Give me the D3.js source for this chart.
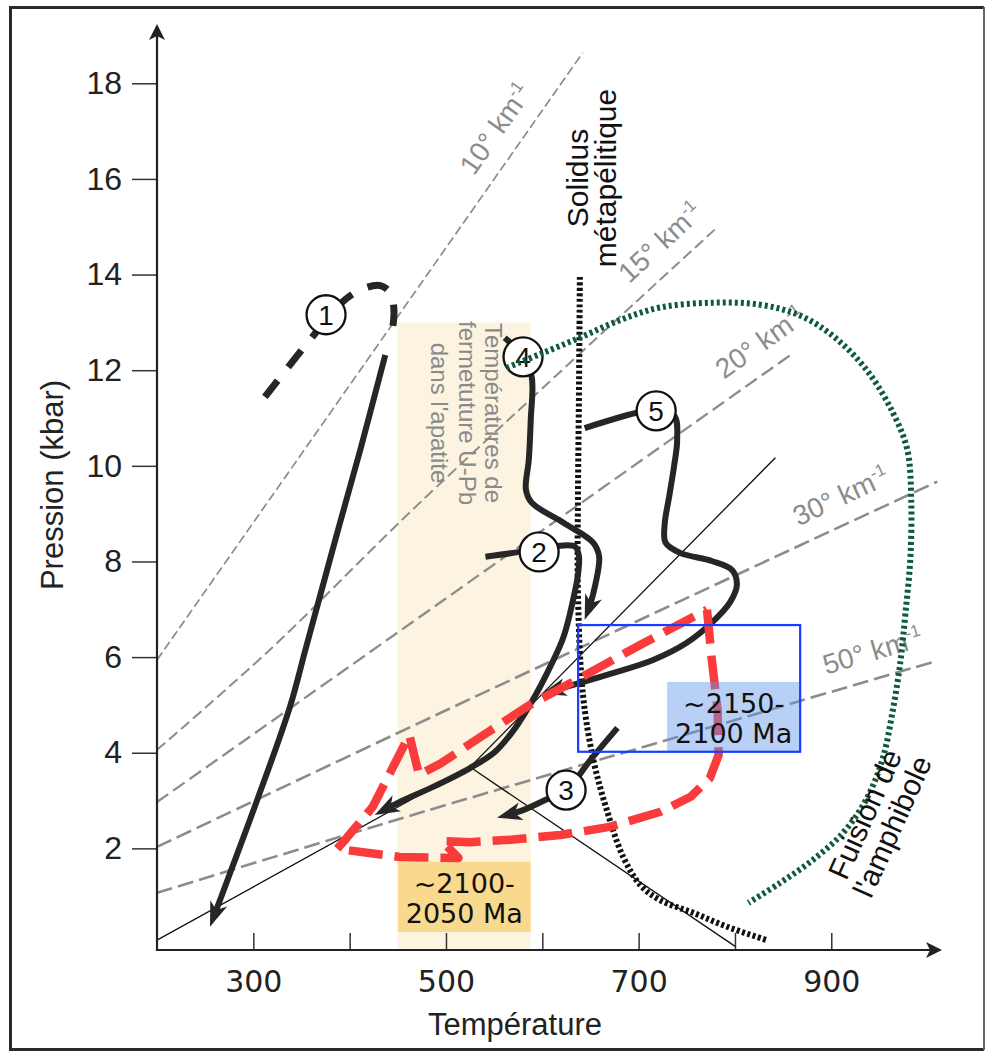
<!DOCTYPE html>
<html>
<head>
<meta charset="utf-8">
<script src="https://cdn.jsdelivr.net/npm/d3@7/dist/d3.min.js"></script>
<style>html,body{margin:0;padding:0;background:#fff}svg{display:block}</style>
</head>
<body>
<svg id="chart" width="992" height="1057"></svg>
<script>
// ---------------- data (Temperature °C, Pressure kbar) ----------------
const xTickValues = [300, 400, 500, 600, 700, 800, 900];
const xTickLabels = [300, 500, 700, 900];
const yTickValues = [2, 4, 6, 8, 10, 12, 14, 16, 18];

const geothermNames = ["10° km", "15° km", "20° km", "30° km", "50° km"];
const geotherm10 = [[200, 5.94], [642, 18.64]];
const geotherm15 = [[200, 4.06], [317, 6.15], [473, 9.23], [779, 14.94]];
const geotherm20 = [[200, 2.97], [439, 6.36], [862, 12.38]];
const geotherm30 = [[200, 2.03], [494, 4.83], [1010, 9.67]];
const geotherm50 = [[200, 1.07], [380, 2.18], [494, 2.87], [1006, 5.90]];
const geothermLabelT = [575, 742, 843, 922, 951];

const path1Dashed = [[312, 11.44], [359, 12.64], [395, 13.47], [416, 13.72], [432, 13.77], [442, 13.62], [446, 13.26], [444, 12.78]];
const path1 = [[437, 12.32], [411, 10.33], [390, 8.81], [369, 7.26], [354, 6.15], [338, 4.96], [304, 3.01], [276, 1.49], [255, 0.36]];
const path2 = [[541, 8.10], [577, 8.20], [618, 8.33], [634, 8.31], [638, 8.12], [637, 7.72], [632, 7.20], [622, 6.42], [608, 5.79], [592, 5.17], [572, 4.52], [551, 4.02], [525, 3.68], [486, 3.28], [452, 2.97], [426, 2.70]];
const path3 = [[678, 4.52], [650, 3.85], [625, 3.22], [603, 3.01], [580, 2.80], [553, 2.64]];
const path4 = [[561, 12.68], [580, 12.28], [589, 11.86], [588, 10.96], [586, 10.13], [583, 9.50], [589, 9.23], [622, 8.81], [653, 8.39], [659, 8.10], [655, 7.51], [649, 7.05], [644, 6.78]];
const path5 = [[644, 10.79], [698, 11.11], [717, 11.17], [737, 11.05], [740, 10.54], [737, 10.02], [732, 9.39], [727, 8.77], [728, 8.39], [743, 8.18], [776, 8.01], [797, 7.82], [802, 7.51], [795, 7.15], [776, 6.72], [750, 6.30], [715, 5.94], [674, 5.67], [639, 5.46], [599, 5.23]];
const redPath = [[771, 6.99], [776, 5.94], [782, 4.90], [783, 3.95], [774, 3.47], [754, 3.08], [722, 2.76], [670, 2.45], [619, 2.28], [567, 2.18], [525, 2.13], [496, 2.15], [513, 1.80], [452, 1.82], [387, 1.99], [397, 2.22], [424, 2.87], [445, 3.70], [462, 4.37], [467, 3.95], [472, 3.54], [494, 3.77], [539, 4.37], [587, 5.00], [639, 5.56], [702, 6.26], [771, 6.99]];
const solidus = [[639, 13.95], [638, 11.38], [637, 9.29], [637, 7.34], [642, 5.25], [653, 3.85], [667, 2.80], [684, 1.82], [702, 1.23], [722, 0.92], [757, 0.65], [792, 0.36], [833, 0.08]];
const amphibole = [[563, 12.05], [598, 12.34], [639, 12.68], [681, 13.05], [722, 13.31], [774, 13.41], [826, 13.37], [868, 13.14], [904, 12.68], [938, 11.97], [964, 11.11], [979, 10.33], [983, 9.29], [982, 8.03], [977, 6.92], [972, 5.94], [964, 4.90], [953, 3.85], [936, 3.01], [912, 2.32], [881, 1.76], [847, 1.28], [814, 0.86]];
const thinLineA = [[200, 0.08], [525, 3.70], [842, 10.17]];
const thinLineB = [[525, 3.70], [801, -0.06]];

const circleLabels = ["1", "2", "3", "4", "5"];
const circleT = [375.5, 596.7, 624.7, 580, 718.2];
const circleP = [13.16, 8.20, 3.22, 12.28, 11.15];

const apatiteBandT = [450, 588];
const apatiteBandP = [-0.12, 13.0];
const ageBoxOrangeP = [0.25, 1.72];
const ageBoxBlueT = [637.2, 867.7];
const ageBoxBlueP = [4.02, 6.67];
const ageLabelBlueT = [729.6, 867.7];
const ageLabelBlueP = [4.02, 5.48];

// ---------------- drawing ----------------
const svg = d3.select("#chart");
const W = 992, H = 1057;
const fontA = "'Liberation Sans', Arial, Helvetica, sans-serif";
const fontD = "'DejaVu Sans', Verdana, sans-serif";
const x = d3.scaleLinear().domain([200, 1000]).range([157, 927.6]);
const y = d3.scaleLinear().domain([0, 18]).range([944, 83.3]);
const axisY = 950;

svg.append("rect").attr("width", W).attr("height", H).attr("fill", "#fff");

const lin = d3.line().x(d => x(d[0])).y(d => y(d[1]));
const smooth = d3.line().x(d => x(d[0])).y(d => y(d[1])).curve(d3.curveCatmullRom.alpha(0.5));

// apatite closure band
svg.append("rect")
  .attr("x", x(apatiteBandT[0])).attr("width", x(apatiteBandT[1]) - x(apatiteBandT[0]))
  .attr("y", y(apatiteBandP[1])).attr("height", y(apatiteBandP[0]) - y(apatiteBandP[1]))
  .attr("fill", "#fcf4e0");
svg.append("rect")
  .attr("x", x(apatiteBandT[0])).attr("width", x(apatiteBandT[1]) - x(apatiteBandT[0]))
  .attr("y", y(ageBoxOrangeP[1])).attr("height", y(ageBoxOrangeP[0]) - y(ageBoxOrangeP[1]))
  .attr("fill", "#f8d98e");

// geotherms
const geotherms = [geotherm10, geotherm15, geotherm20, geotherm30, geotherm50];
const gWidth = [1.7, 2, 2.3, 2.6, 2.6];
const gDash = ["9,4", "11,5", "14,6", "16,6", "16,6"];
const gGeo = svg.append("g");
geotherms.forEach((g, i) => {
  gGeo.append("path").attr("d", smooth(g)).attr("fill", "none")
    .attr("stroke", "#8c8c8c").attr("stroke-width", gWidth[i]).attr("stroke-dasharray", gDash[i]);
  const T = geothermLabelT[i];
  let k = 0;
  while (k < g.length - 2 && g[k + 1][0] < T) k++;
  const a = g[k], b = g[k + 1];
  const P = a[1] + (b[1] - a[1]) * (T - a[0]) / (b[0] - a[0]);
  const ang = Math.atan2(y(b[1]) - y(a[1]), x(b[0]) - x(a[0])) * 180 / Math.PI;
  const t = gGeo.append("text")
    .attr("transform", `translate(${x(T)},${y(P)}) rotate(${ang})`)
    .attr("y", -18).attr("text-anchor", "middle")
    .attr("font-family", fontA).attr("font-size", 28).attr("fill", "#8c8c8c");
  t.append("tspan").text(geothermNames[i]);
  t.append("tspan").attr("font-size", 17).attr("dy", -11).text("-1");
});

// apatite text
const gAp = svg.append("g").attr("transform", "translate(467,413) rotate(90)")
  .attr("font-family", fontA).attr("font-size", 24).attr("fill", "#8a8a8a").attr("text-anchor", "middle");
gAp.append("text").attr("y", -18).text("Températures de");
gAp.append("text").attr("y", 8).text("fermetuture U-Pb");
gAp.append("text").attr("y", 36).text("dans l'apatite");

// thin lines
svg.append("path").attr("d", lin(thinLineA)).attr("fill", "none").attr("stroke", "#111").attr("stroke-width", 1.3);
svg.append("path").attr("d", lin(thinLineB)).attr("fill", "none").attr("stroke", "#111").attr("stroke-width", 1.3);

// solidus
svg.append("path").attr("d", smooth(solidus)).attr("fill", "none")
  .attr("stroke", "#111").attr("stroke-width", 6).attr("stroke-dasharray", "3,2.5");

// black P-T paths
const black = "#262626";
function arrowPath(data) {
  const p = svg.append("path").attr("d", smooth(data)).attr("fill", "none")
    .attr("stroke", black).attr("stroke-width", 6).attr("stroke-linejoin", "round");
  const node = p.node();
  const L = node.getTotalLength();
  p.attr("stroke-dasharray", `${L - 12} ${L + 50}`);
  const tip = node.getPointAtLength(L);
  const back = node.getPointAtLength(L - 12);
  const ang = Math.atan2(tip.y - back.y, tip.x - back.x) * 180 / Math.PI;
  svg.append("path").attr("d", "M0,0 L-25,-9 L-18,0 L-25,9 Z")
    .attr("transform", `translate(${tip.x},${tip.y}) rotate(${ang})`).attr("fill", black);
}
svg.append("path").attr("d", smooth(path1Dashed)).attr("fill", "none")
  .attr("stroke", black).attr("stroke-width", 7).attr("stroke-dasharray", "21,17");
[path1, path2, path3, path4, path5].forEach(arrowPath);

// red path
svg.append("path").attr("d", lin(redPath)).attr("fill", "none")
  .attr("stroke", "#f93b3b").attr("stroke-width", 8.5).attr("stroke-dasharray", "34,12")
  .attr("stroke-linejoin", "round");

// circles
circleLabels.forEach((lab, i) => {
  const cx = x(circleT[i]), cy = y(circleP[i]);
  svg.append("circle").attr("cx", cx).attr("cy", cy).attr("r", 19.5)
    .attr("fill", "#fff").attr("stroke", "#111").attr("stroke-width", 2.3);
  svg.append("text").attr("x", cx).attr("y", cy + 10).attr("text-anchor", "middle")
    .attr("font-family", fontA).attr("font-size", 28).attr("fill", "#111").text(lab);
});

// amphibole melting
svg.append("path").attr("d", smooth(amphibole)).attr("fill", "none")
  .attr("stroke", "#0e5a3c").attr("stroke-width", 6).attr("stroke-dasharray", "3,3");

// blue age box
svg.append("rect")
  .attr("x", x(ageLabelBlueT[0])).attr("width", x(ageLabelBlueT[1]) - x(ageLabelBlueT[0]))
  .attr("y", y(ageLabelBlueP[1])).attr("height", y(ageLabelBlueP[0]) - y(ageLabelBlueP[1]))
  .attr("fill", "rgb(100,150,235)").attr("fill-opacity", 0.45);
svg.append("rect")
  .attr("x", x(ageBoxBlueT[0])).attr("width", x(ageBoxBlueT[1]) - x(ageBoxBlueT[0]))
  .attr("y", y(ageBoxBlueP[1])).attr("height", y(ageBoxBlueP[0]) - y(ageBoxBlueP[1]))
  .attr("fill", "none").attr("stroke", "#1a3cff").attr("stroke-width", 2.2);
const blueCx = (x(ageLabelBlueT[0]) + x(ageLabelBlueT[1])) / 2;
const bt = svg.append("g").attr("font-family", fontD).attr("font-size", 27).attr("fill", "#111").attr("text-anchor", "middle");
bt.append("text").attr("x", blueCx).attr("y", 713).text("~2150-");
bt.append("text").attr("x", blueCx).attr("y", 743).text("2100 Ma");

const orCx = (x(apatiteBandT[0]) + x(apatiteBandT[1])) / 2;
const ot = svg.append("g").attr("font-family", fontD).attr("font-size", 27).attr("fill", "#111").attr("text-anchor", "middle");
ot.append("text").attr("x", orCx).attr("y", 893).text("~2100-");
ot.append("text").attr("x", orCx).attr("y", 923).text("2050 Ma");

// Solidus label
const gSol = svg.append("g").attr("transform", "translate(600,178) rotate(-90)")
  .attr("font-family", fontA).attr("font-size", 30).attr("fill", "#111").attr("text-anchor", "middle");
gSol.append("text").attr("y", -12).text("Solidus");
gSol.append("text").attr("y", 16).text("métapélitique");

// Amphibole label
const gAm = svg.append("g").attr("transform", "translate(878,820) rotate(-66)")
  .attr("font-family", fontA).attr("font-size", 30).attr("fill", "#111").attr("text-anchor", "middle");
gAm.append("text").attr("y", -4).text("Fuision de");
gAm.append("text").attr("y", 26).text("l'amphibole");

// axes
const ax = svg.append("g").attr("transform", `translate(0,${axisY})`)
  .call(d3.axisBottom(x).tickValues(xTickValues).tickSize(-17).tickPadding(21)
    .tickFormat(d => xTickLabels.includes(d) ? d : ""));
ax.select(".domain").remove();
ax.selectAll("line").attr("stroke", "#333").attr("stroke-width", 1.5);
ax.selectAll("text").attr("font-family", fontD).attr("font-size", 30).attr("fill", "#222");

const ay = svg.append("g").attr("transform", "translate(157,0)")
  .call(d3.axisLeft(y).tickValues(yTickValues).tickSize(25).tickPadding(10));
ay.select(".domain").remove();
ay.selectAll("line").attr("stroke", "#333").attr("stroke-width", 1.5);
ay.selectAll("text").attr("font-family", fontA).attr("font-size", 32).attr("fill", "#222");

svg.append("line").attr("x1", 157).attr("x2", 157).attr("y1", axisY + 1).attr("y2", 36)
  .attr("stroke", "#222").attr("stroke-width", 2.2);
svg.append("path").attr("d", "M0,0 L-16,-8 L-12,0 L-16,8 Z")
  .attr("transform", "translate(157,24) rotate(-90)").attr("fill", "#222");
svg.append("line").attr("x1", 156).attr("x2", 930).attr("y1", axisY).attr("y2", axisY)
  .attr("stroke", "#222").attr("stroke-width", 2.2);
svg.append("path").attr("d", "M0,0 L-16,-8 L-12,0 L-16,8 Z")
  .attr("transform", `translate(942,${axisY})`).attr("fill", "#222");

svg.append("text").attr("x", 515).attr("y", 1035).attr("text-anchor", "middle")
  .attr("font-family", fontA).attr("font-size", 31).attr("fill", "#222").text("Température");
svg.append("text").attr("transform", "translate(63,485) rotate(-90)").attr("text-anchor", "middle")
  .attr("font-family", fontA).attr("font-size", 31).attr("fill", "#222").text("Pression (kbar)");

// frame
svg.append("path").attr("d", "M984,7.5 L10.5,7.5 L10.5,1049.5 L984,1049.5")
  .attr("fill", "none").attr("stroke", "#2a2a2a").attr("stroke-width", 3);
svg.append("line").attr("x1", 984).attr("x2", 984).attr("y1", 7).attr("y2", 1050)
  .attr("stroke", "#666").attr("stroke-width", 2);
</script>
</body>
</html>
